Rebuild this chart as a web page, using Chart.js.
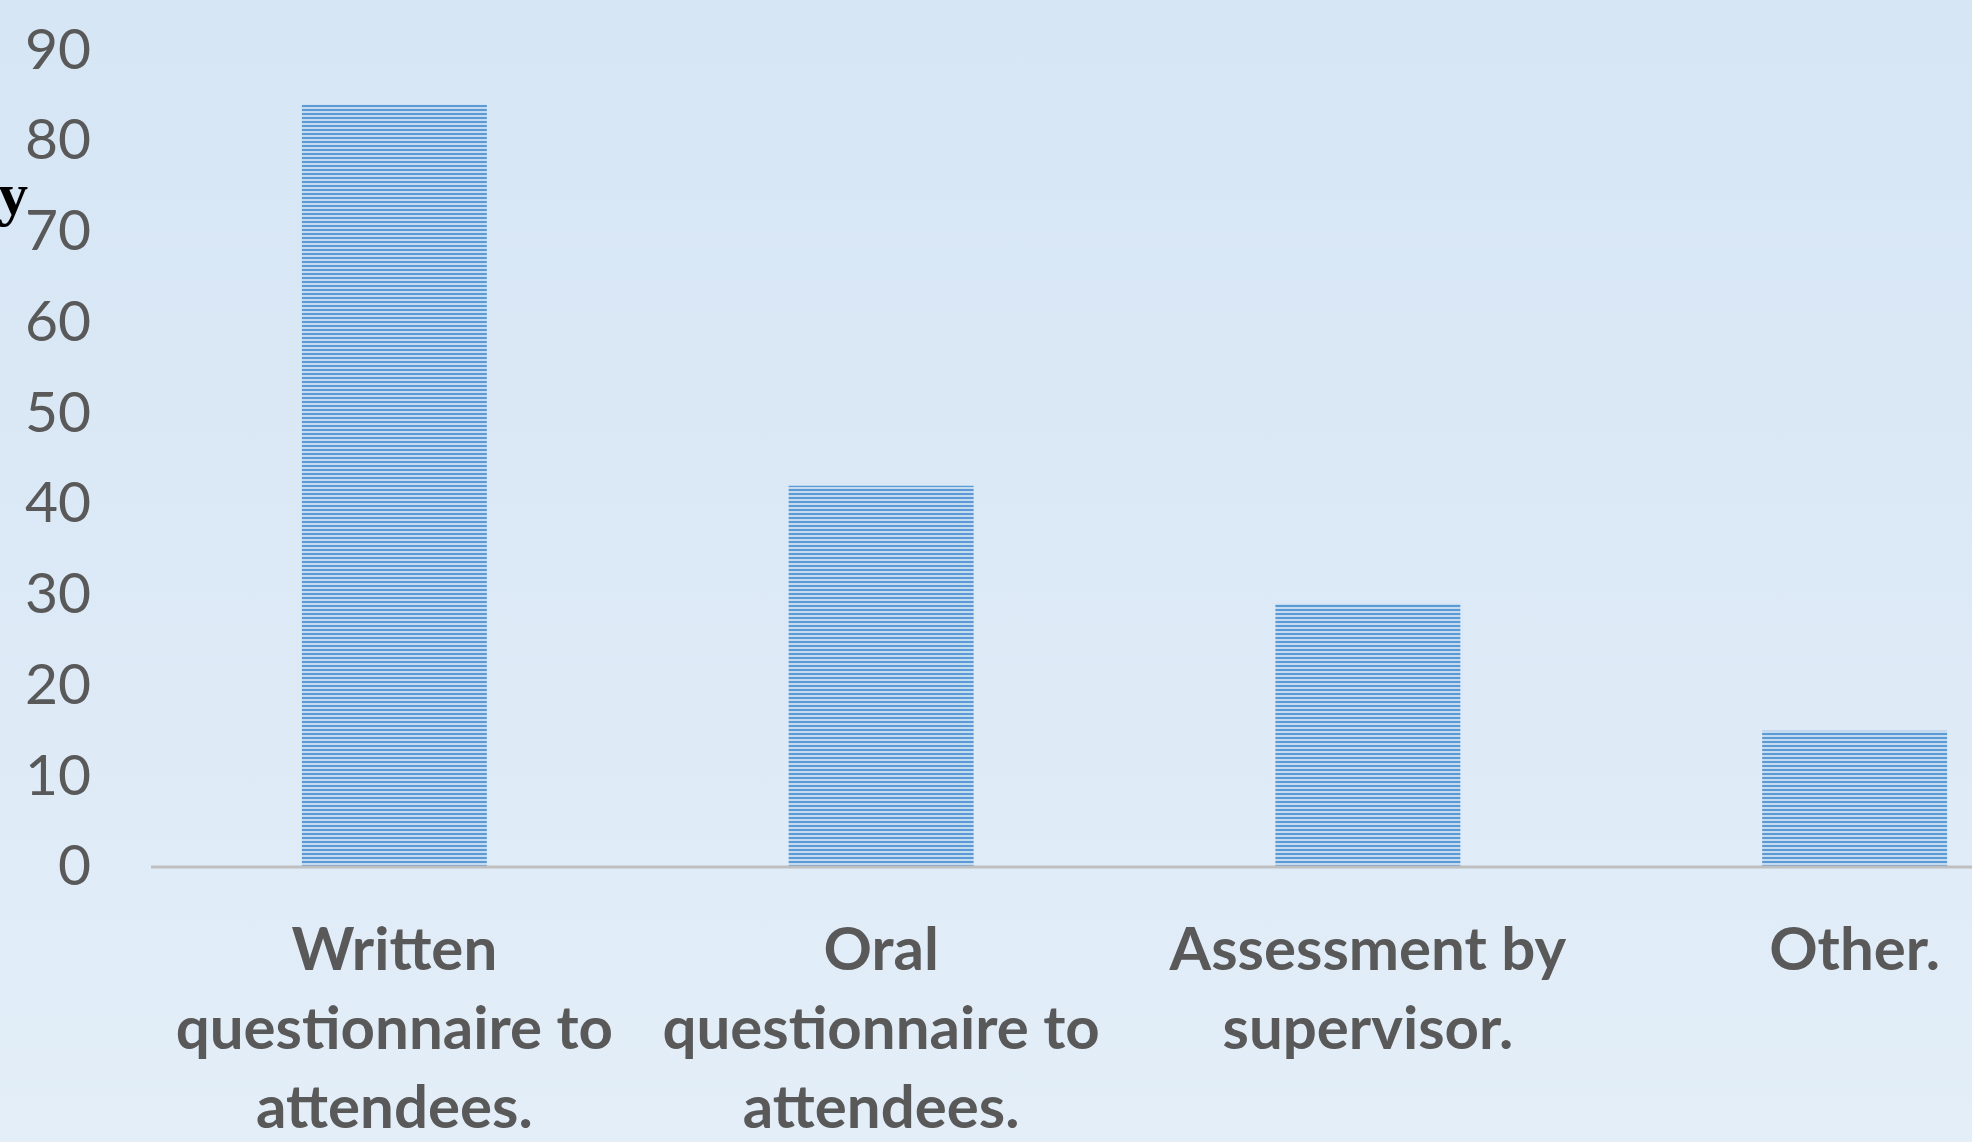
<!DOCTYPE html>
<html>
<head>
<meta charset="utf-8">
<script src="https://cdn.jsdelivr.net/npm/chart.js@4.4.1/dist/chart.umd.min.js"></script>
<style>
  html, body { margin: 0; padding: 0; width: 1972px; height: 1142px; overflow: hidden; }
  body { background: linear-gradient(to bottom, #d6e6f5 0%, #dce9f6 50%, #e3eef8 100%); position: relative; }
  #wrap { position: absolute; left: 0; top: -44px; width: 2098px; height: 1186px; }
  #axisWord { position: absolute; left: -2px; top: 160px; font: bold 60px "Liberation Serif", serif; color: #000; }
</style>
</head>
<body>
<div id="wrap"><canvas id="evalChart"></canvas></div>
<div id="axisWord">y</div>
<script>
// chart data
const categories = [
    ['Written', 'questionnaire to', 'attendees.'],
    ['Oral', 'questionnaire to', 'attendees.'],
    ['Assessment by', 'supervisor.'],
    ['Other.']
];
const counts = [84, 42, 29, 15];
const yTicks = [0, 10, 20, 30, 40, 50, 60, 70, 80, 90];

const textColor = '#595959';

// horizontal stripes like the excel pattern fill
function stripePattern() {
    const c = document.createElement('canvas');
    c.width = 4; c.height = 4;
    const g = c.getContext('2d');
    g.fillStyle = '#c6dbf0';
    g.fillRect(0, 0, 4, 4);
    g.fillStyle = '#5b9bd5';
    g.fillRect(0, 1, 4, 2);
    return g.createPattern(c, 'repeat');
}

// baseline starts at the plot left edge and runs to the right
const baseLine = {
    id: 'baseLine',
    afterDatasetsDraw(chart) {
        const ctx = chart.ctx;
        const y = chart.scales.y.getPixelForValue(0);
        ctx.save();
        ctx.strokeStyle = '#bfbfbf';
        ctx.lineWidth = 3;
        ctx.beginPath();
        ctx.moveTo(chart.chartArea.left, y);
        ctx.lineTo(chart.chartArea.right, y);
        ctx.stroke();
        ctx.restore();
    }
};

const ctx = document.getElementById('evalChart').getContext('2d');
new Chart(ctx, {
    type: 'bar',
    data: {
        labels: categories,
        datasets: [{
            data: counts,
            backgroundColor: stripePattern(),
            borderWidth: 0,
            barPercentage: 0.38,
            categoryPercentage: 1.0
        }]
    },
    options: {
        responsive: true,
        maintainAspectRatio: false,
        animation: false,
        layout: { padding: { top: 4, left: 0, right: 0, bottom: 0 } },
        plugins: { legend: { display: false }, tooltip: { enabled: false } },
        scales: {
            x: {
                grid: { display: false, drawTicks: false },
                border: { display: false },
                ticks: {
                    color: textColor,
                    font: { family: 'Lato', size: 60, weight: 'bold', lineHeight: 1.317 },
                    padding: 44,
                    maxRotation: 0,
                    autoSkip: false
                },
                afterFit(scale) { scale.height = 1142 - 867; }
            },
            y: {
                min: 0,
                max: 90,
                afterBuildTicks(scale) { scale.ticks = yTicks.map(v => ({ value: v })); },
                grid: { display: false, drawTicks: false },
                border: { display: false },
                ticks: {
                    color: textColor,
                    font: { family: 'Lato', size: 57 },
                    padding: 60
                },
                afterFit(scale) { scale.width = 151; }
            }
        }
    },
    plugins: [baseLine]
});
</script>
</body>
</html>
